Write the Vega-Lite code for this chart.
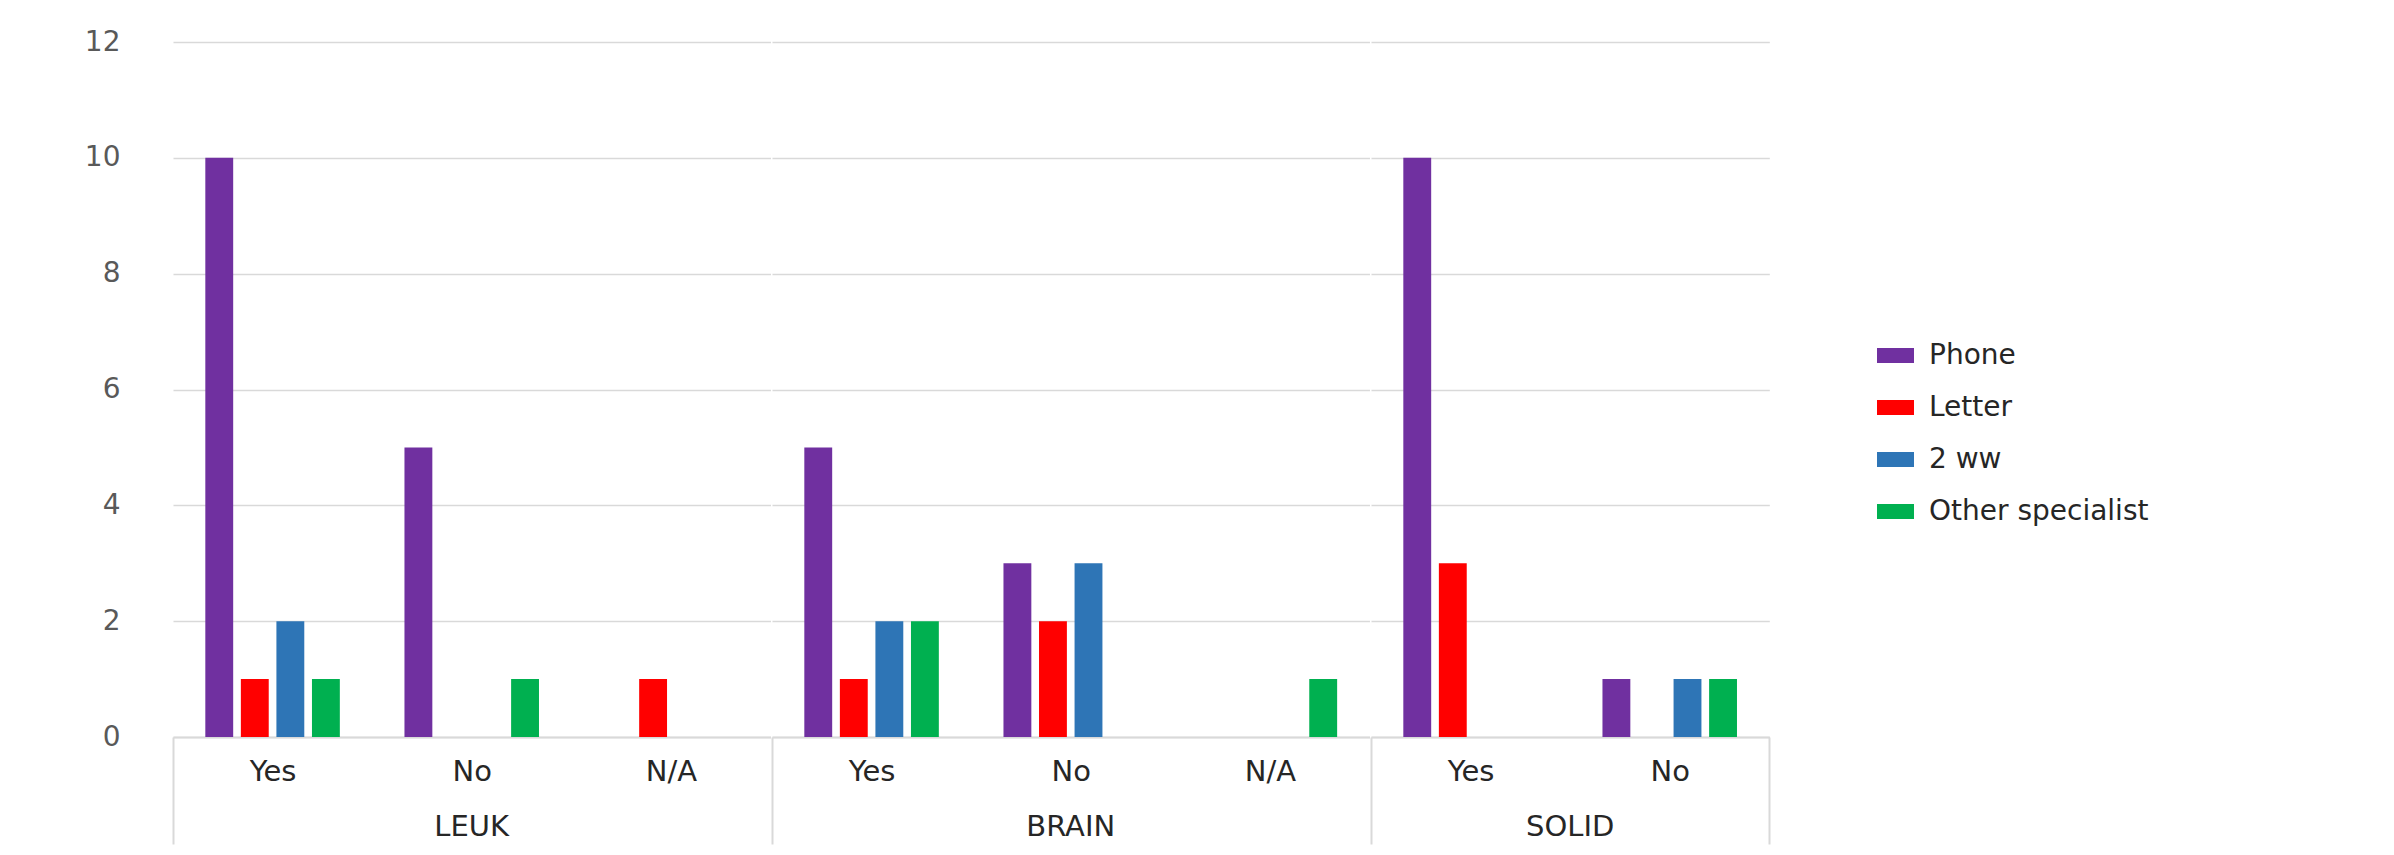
{
  "$schema": "https://vega.github.io/schema/vega-lite/v6.json",
  "background": "white",
  "padding": {"left": 84, "top": 28, "right": 0, "bottom": 0},
  "config": {"font": "DejaVu Sans", "view": {"stroke": null}},
  "data": {
    "values": [
      {"group": "LEUK", "key": "LEUK|Yes", "type": "Phone", "count": 10},
      {"group": "LEUK", "key": "LEUK|Yes", "type": "Letter", "count": 1},
      {"group": "LEUK", "key": "LEUK|Yes", "type": "2 ww", "count": 2},
      {"group": "LEUK", "key": "LEUK|Yes", "type": "Other specialist", "count": 1},
      {"group": "LEUK", "key": "LEUK|No", "type": "Phone", "count": 5},
      {"group": "LEUK", "key": "LEUK|No", "type": "Other specialist", "count": 1},
      {"group": "LEUK", "key": "LEUK|N/A", "type": "Letter", "count": 1},
      {"group": "BRAIN", "key": "BRAIN|Yes", "type": "Phone", "count": 5},
      {"group": "BRAIN", "key": "BRAIN|Yes", "type": "Letter", "count": 1},
      {"group": "BRAIN", "key": "BRAIN|Yes", "type": "2 ww", "count": 2},
      {"group": "BRAIN", "key": "BRAIN|Yes", "type": "Other specialist", "count": 2},
      {"group": "BRAIN", "key": "BRAIN|No", "type": "Phone", "count": 3},
      {"group": "BRAIN", "key": "BRAIN|No", "type": "Letter", "count": 2},
      {"group": "BRAIN", "key": "BRAIN|No", "type": "2 ww", "count": 3},
      {"group": "BRAIN", "key": "BRAIN|N/A", "type": "Other specialist", "count": 1},
      {"group": "SOLID", "key": "SOLID|Yes", "type": "Phone", "count": 10},
      {"group": "SOLID", "key": "SOLID|Yes", "type": "Letter", "count": 3},
      {"group": "SOLID", "key": "SOLID|No", "type": "Phone", "count": 1},
      {"group": "SOLID", "key": "SOLID|No", "type": "2 ww", "count": 1},
      {"group": "SOLID", "key": "SOLID|No", "type": "Other specialist", "count": 1}
    ]
  },
  "facet": {
    "column": {
      "field": "group",
      "type": "nominal",
      "sort": ["LEUK", "BRAIN", "SOLID"],
      "header": {
        "title": null,
        "labelOrient": "bottom",
        "labelFont": "DejaVu Sans",
        "labelFontSize": 29,
        "labelColor": "#262626",
        "labelPadding": -32
      }
    }
  },
  "spacing": 0,
  "resolve": {"scale": {"x": "independent"}},
  "spec": {
    "width": {"step": 35.55},
    "height": 695,
    "mark": {"type": "bar"},
    "encoding": {
      "x": {
        "field": "key",
        "type": "nominal",
        "sort": ["LEUK|Yes", "LEUK|No", "LEUK|N/A", "BRAIN|Yes", "BRAIN|No", "BRAIN|N/A", "SOLID|Yes", "SOLID|No"],
        "scale": {"paddingInner": 0, "paddingOuter": 0},
        "axis": {
          "title": null,
          "labelExpr": "datum.value ? split(datum.value, '|')[1] : ''",
          "labelAngle": 0,
          "labelFontSize": 29,
          "labelColor": "#262626",
          "labelPadding": -87,
          "tickBand": "extent",
          "tickSize": 107,
          "tickWidth": 2,
          "tickColor": {"condition": {"test": "datum.extra || datum.value == 'SOLID|No'", "value": "#d9d9d9"}, "value": "transparent"},
          "domainColor": "#d9d9d9",
          "domainWidth": 2
        }
      },
      "xOffset": {
        "field": "type",
        "type": "nominal",
        "scale": {"domain": ["Phone", "Letter", "2 ww", "Other specialist"], "paddingInner": 0.216, "paddingOuter": 0.909}
      },
      "y": {
        "field": "count",
        "type": "quantitative",
        "scale": {"domain": [0, 12]},
        "axis": {
          "title": null,
          "values": [0, 2, 4, 6, 8, 10, 12],
          "domain": false,
          "ticks": false,
          "labelPadding": 52,
          "labelFontSize": 28,
          "labelColor": "#595959",
          "gridColor": "#d9d9d9",
          "gridWidth": 1.5
        }
      },
      "color": {
        "field": "type",
        "type": "nominal",
        "scale": {"domain": ["Phone", "Letter", "2 ww", "Other specialist"], "range": ["#7030A0", "#FF0000", "#2E75B6", "#00B050"]},
        "legend": {
          "title": null,
          "orient": "right",
          "offset": -188,
          "padding": 295,
          "symbolType": "M-1,-0.4H1V0.4H-1Z",
          "symbolSize": 1369,
          "symbolStrokeWidth": 0,
          "labelFontSize": 28,
          "labelColor": "#262626",
          "labelOffset": 15,
          "rowPadding": 19,
          "labelLimit": 600
        }
      }
    }
  }
}
